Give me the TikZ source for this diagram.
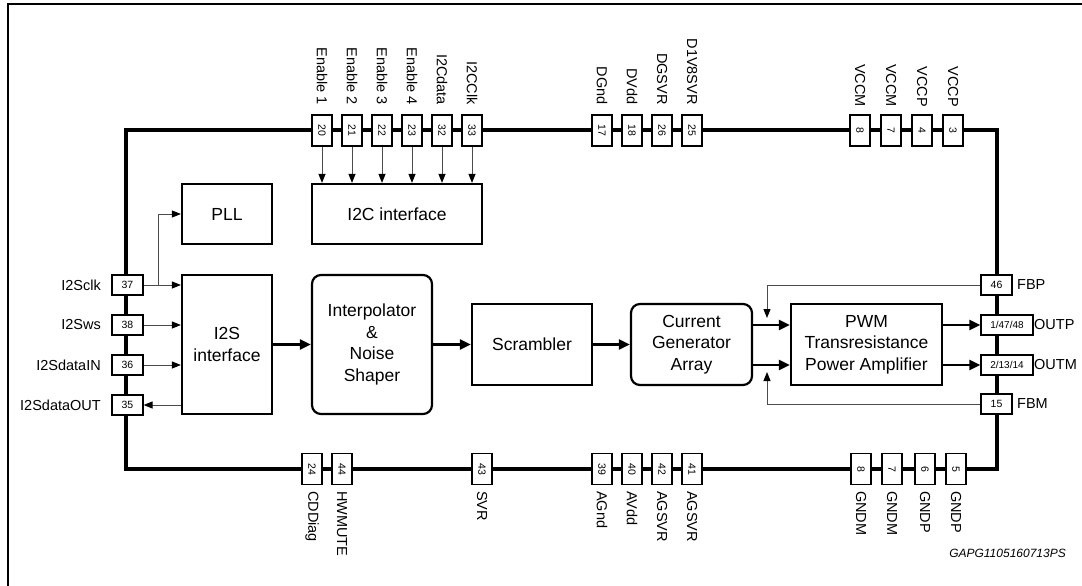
\documentclass[tikz,border=0pt]{standalone}
\usepackage{fontspec}
\setmainfont{Liberation Sans}
\usetikzlibrary{arrows.meta}

\begin{document}
\begin{tikzpicture}[x=1pt,y=-1pt,
    block/.style={draw,line width=2.2pt,inner sep=0pt,align=center,font=\fontsize{17.5}{21.5}\selectfont},
    rblock/.style={block,rounded corners=9pt},
    vpin/.style={draw,fill=white,line width=1.2pt,rotate=-90,minimum width=31pt,minimum height=20pt,inner sep=0pt,font=\fontsize{10.5}{12}\selectfont},
    hpin/.style={draw,fill=white,line width=1.2pt,minimum width=31pt,minimum height=20pt,inner sep=0pt,font=\fontsize{10.5}{12}\selectfont},
    toplbl/.style={rotate=-90,anchor=east,inner sep=1pt,font=\fontsize{14.5}{16}\selectfont},
    botlbl/.style={rotate=-90,anchor=west,inner sep=1pt,font=\fontsize{14.5}{16}\selectfont},
    sidelbl/.style={inner sep=1pt,font=\fontsize{14.5}{16}\selectfont},
    thin/.style={draw=black!70,line width=1pt,-{Triangle[length=9pt,width=7pt,color=black]}},
    bus/.style={line width=2.4pt,-{Triangle[length=11pt,width=10pt]}}]
    \useasboundingbox (0,0) rectangle (1082,586);

    % frame and chip outline
    \draw[line width=1.8pt] (8,590) -- (8,4) -- (1090,4);
    \draw[line width=4pt] (126,130) rectangle (997,469);

    % blocks
    \node[block,minimum width=90pt,minimum height=60pt] (pll) at (227,214) {PLL};
    \node[block,minimum width=170pt,minimum height=60pt] (i2c) at (397,214) {I2C interface};
    \node[block,minimum width=90pt,minimum height=139pt] (i2s) at (227,344.5) {I2S\\interface};
    \node[rblock,minimum width=120pt,minimum height=139pt] (interp) at (372,344.5) {Interpolator\\\&\\Noise\\Shaper};
    \node[block,minimum width=120pt,minimum height=81pt] (scr) at (532,344.5) {Scrambler};
    \node[rblock,minimum width=121pt,minimum height=81pt] (cga) at (691.5,344.5) {Current\\Generator\\Array};
    \node[block,minimum width=151pt,minimum height=81pt] (pwm) at (866.5,344.5) {PWM\\Transresistance\\Power Amplifier};

    % top pins
    \node[vpin] (t20) at (322,130.5) {20};
    \node[vpin] (t21) at (352,130.5) {21};
    \node[vpin] (t22) at (382,130.5) {22};
    \node[vpin] (t23) at (412,130.5) {23};
    \node[vpin] (t32) at (442,130.5) {32};
    \node[vpin] (t33) at (472,130.5) {33};
    \node[vpin] (t17) at (602,130.5) {17};
    \node[vpin] (t18) at (632,130.5) {18};
    \node[vpin] (t26) at (662,130.5) {26};
    \node[vpin] (t25) at (692,130.5) {25};
    \node[vpin] (t8) at (860,130.5) {8};
    \node[vpin] (t7) at (891,130.5) {7};
    \node[vpin] (t4) at (922,130.5) {4};
    \node[vpin] (t3) at (953,130.5) {3};

    \node[toplbl] (lt20) at (322,106) {Enable 1};
    \node[toplbl] (lt21) at (352,106) {Enable 2};
    \node[toplbl] (lt22) at (382,106) {Enable 3};
    \node[toplbl] (lt23) at (412,106) {Enable 4};
    \node[toplbl] (lt32) at (442,106) {I2Cdata};
    \node[toplbl] (lt33) at (472,106) {I2CClk};
    \node[toplbl] (lt17) at (602,106) {DGnd};
    \node[toplbl] (lt18) at (632,106) {DVdd};
    \node[toplbl] (lt26) at (662,106) {DGSVR};
    \node[toplbl] (lt25) at (692,106) {D1V8SVR};
    \node[toplbl] (lt8) at (860,108) {VCCM};
    \node[toplbl] (lt7) at (891,108) {VCCM};
    \node[toplbl] (lt4) at (922,108) {VCCP};
    \node[toplbl] (lt3) at (953,108) {VCCP};

    % bottom pins
    \node[vpin] (b24) at (312,469) {24};
    \node[vpin] (b44) at (342,469) {44};
    \node[vpin] (b43) at (482,469) {43};
    \node[vpin] (b39) at (602,469) {39};
    \node[vpin] (b40) at (632,469) {40};
    \node[vpin] (b42) at (662,469) {42};
    \node[vpin] (b41) at (692,469) {41};
    \node[vpin] (b8) at (861,469) {8};
    \node[vpin] (b7) at (892,469) {7};
    \node[vpin] (b6) at (925,469) {6};
    \node[vpin] (b5) at (956,469) {5};

    \node[botlbl] (lb24) at (312,490) {CDDiag};
    \node[botlbl] (lb44) at (342,490) {HWMUTE};
    \node[botlbl] (lb43) at (482,490) {SVR};
    \node[botlbl] (lb39) at (602,490) {AGnd};
    \node[botlbl] (lb40) at (632,490) {AVdd};
    \node[botlbl] (lb42) at (662,490) {AGSVR};
    \node[botlbl] (lb41) at (692,490) {AGSVR};
    \node[botlbl] (lb8) at (861,490) {GNDM};
    \node[botlbl] (lb7) at (892,490) {GNDM};
    \node[botlbl] (lb6) at (925,490) {GNDP};
    \node[botlbl] (lb5) at (956,490) {GNDP};

    % left pins
    \node[hpin] (l37) at (127.5,285) {37};
    \node[hpin] (l38) at (127.5,325) {38};
    \node[hpin] (l36) at (127.5,365) {36};
    \node[hpin] (l35) at (127.5,405) {35};
    \node[sidelbl,anchor=east] (ll37) at (102,285) {I2Sclk};
    \node[sidelbl,anchor=east] (ll38) at (102,325) {I2Sws};
    \node[sidelbl,anchor=east] (ll36) at (102,365) {I2SdataIN};
    \node[sidelbl,anchor=east] (ll35) at (102,405) {I2SdataOUT};

    % right pins
    \node[hpin] (r46) at (996.5,285) {46};
    \node[hpin,minimum width=52pt,font=\fontsize{10}{12}\selectfont] (outp) at (1007,325) {1/47/48};
    \node[hpin,minimum width=52pt,font=\fontsize{10}{12}\selectfont] (outm) at (1007,365) {2/13/14};
    \node[hpin] (r15) at (996.5,404) {15};
    \node[sidelbl,anchor=west] (lr46) at (1016,285) {FBP};
    \node[sidelbl,anchor=west] (lrp) at (1033,325) {OUTP};
    \node[sidelbl,anchor=west] (lrm) at (1033,365) {OUTM};
    \node[sidelbl,anchor=west] (lr15) at (1016,404) {FBM};

    \node[anchor=east,inner sep=0pt,font=\fontsize{12}{14}\selectfont\itshape] (ref) at (1066,553) {GAPG1105160713PS};

    % control lines
    \draw[thin] (t20.east) -- (t20.east |- i2c.north);
    \draw[thin] (t21.east) -- (t21.east |- i2c.north);
    \draw[thin] (t22.east) -- (t22.east |- i2c.north);
    \draw[thin] (t23.east) -- (t23.east |- i2c.north);
    \draw[thin] (t32.east) -- (t32.east |- i2c.north);
    \draw[thin] (t33.east) -- (t33.east |- i2c.north);

    \coordinate (clk) at (158,285);
    \draw[thin] (l37.east) -- (l37 -| i2s.west);
    \draw[thin] (clk) |- (pll.west);
    \draw[thin] (l38.east) -- (l38 -| i2s.west);
    \draw[thin] (l36.east) -- (l36 -| i2s.west);
    \draw[thin] (l35 -| i2s.west) -- (l35.east);

    \coordinate (fbp) at (767,318);
    \coordinate (fbm) at (767,372);
    \draw[thin] (r46.west) -| (fbp);
    \draw[thin] (r15.west) -| (fbm);

    % data path
    \draw[bus] (i2s.east) -- (interp.west);
    \draw[bus] (interp.east) -- (scr.west);
    \draw[bus] (scr.east) -- (cga.west);
    \draw[bus] (cga.east |- outp) -- (pwm.west |- outp);
    \draw[bus] (cga.east |- outm) -- (pwm.west |- outm);
    \draw[bus] (pwm.east |- outp) -- (outp.west);
    \draw[bus] (pwm.east |- outm) -- (outm.west);
\end{tikzpicture}
\end{document}
